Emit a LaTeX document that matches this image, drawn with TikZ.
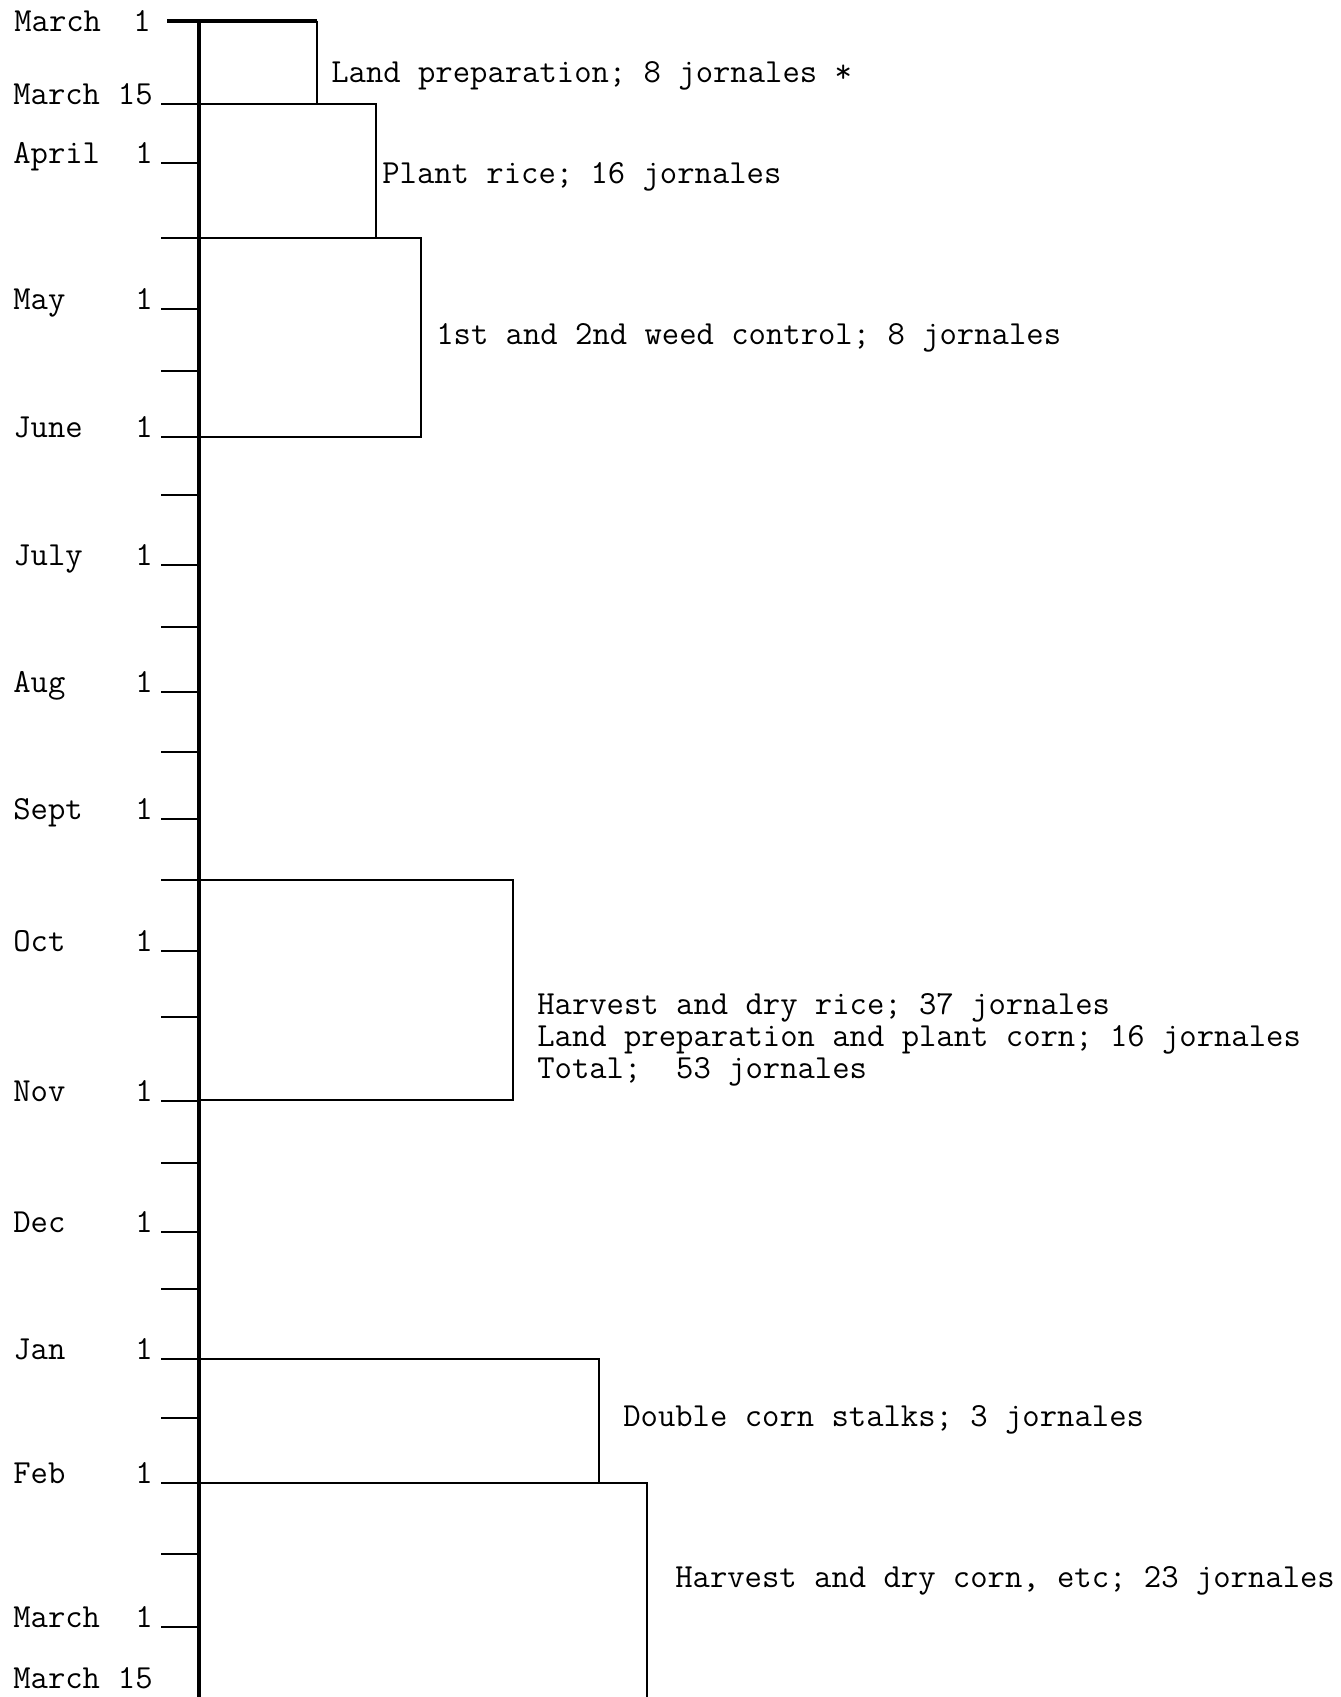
\documentclass[tikz,border=0pt]{standalone}
\usepackage{fontspec}

\tikzset{
  typed/.style={font=\fontsize{16.85}{16}\selectfont\ttfamily, inner sep=0pt},
  tick/.style={line width=1.2pt},
}

\begin{document}
\begin{tikzpicture}[x=0.5pt, y=-0.5pt, line width=1.3pt, every node/.style={typed}]
    \useasboundingbox (0,0) rectangle (1340,1697);

    % Time axis
    \draw[line width=1.6pt] (199,20.7) -- (199,1697);

    % Month ticks with their labels
    \node[anchor=base west] (mon0) at (13,32) {March};
    \node[anchor=base east] (day0) at (152,32) {1};
    \draw[line width=2pt] (167,20.7) -- (199,20.7);
    \foreach \y/\m/\d [count=\i] in {104/March/15, 163/April/1, 309/May/1, 437/June/1,
        565/July/1, 692/Aug/1, 819/Sept/1, 951/Oct/1, 1101/Nov/1, 1232/Dec/1,
        1359/Jan/1, 1483/Feb/1, 1627/March/1} {
        \draw[tick] (161,\y) -- (199,\y);
        \node[anchor=base west] (mon\i) at (12,\y) {\m};
        \node[anchor=base east] (day\i) at (154,\y) {\d};
    }
    \node[anchor=base west] (monend) at (12,1688) {March};
    \node[anchor=base east] (dayend) at (154,1688) {15};

    % Half-month ticks
    \foreach \y in {238,371,495,627,752,880,1017,1163,1289,1418,1554}
        \draw[tick] (161,\y) -- (199,\y);

    % Land preparation
    \draw[line width=2pt] (199,20.7) -- (317,20.7);
    \draw (317,20.7) -- (317,104) -- (199,104);
    \node[anchor=west] (landprep) at (330,76) {Land preparation; 8 jornales *};

    % Plant rice
    \draw (199,104) -| (376,238) -- (199,238);
    \node[anchor=west] (plantrice) at (381,177) {Plant rice; 16 jornales};

    % Weed control
    \draw (199,238) -| (421,437) -- (199,437);
    \node[anchor=west] (weeds) at (435,338) {1st and 2nd weed control; 8 jornales};

    % Rice harvest and corn planting
    \draw (199,880) -| (513,1100) -- (199,1100);
    \node[anchor=west, align=left] (harvrice) at (536,1040)
        {Harvest and dry rice; 37 jornales\\
         Land preparation and plant corn; 16 jornales\\
         Total;\ \ 53 jornales};

    % Doubling
    \draw (199,1359) -| (599,1483) -- (199,1483);
    \node[anchor=west] (double) at (622,1420) {Double corn stalks; 3 jornales};

    % Corn harvest
    \draw (199,1483) -| (647,1697);
    \node[anchor=west] (harvcorn) at (674,1581) {Harvest and dry corn, etc; 23 jornales};
\end{tikzpicture}
\end{document}
